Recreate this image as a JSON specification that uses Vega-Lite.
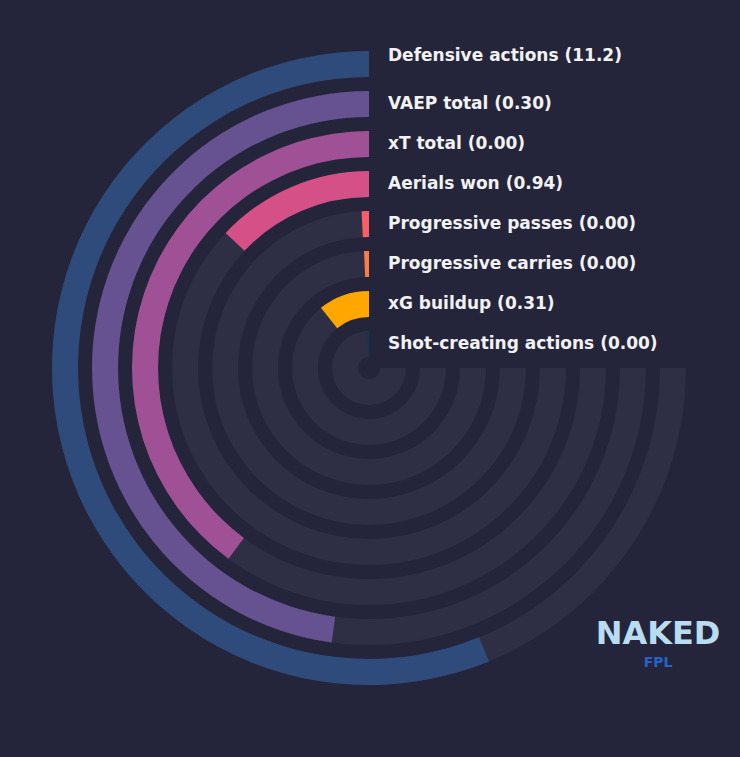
{
  "$schema": "https://vega.github.io/schema/vega-lite/v6.json",
  "autosize": {"type": "none"},
  "width": 738,
  "height": 736,
  "padding": {"left": 0, "top": 0, "right": 2, "bottom": 21},
  "background": "#24253a",
  "config": {"view": {"stroke": null}},
  "title": {
    "text": "NAKED",
    "subtitle": "FPL",
    "orient": "bottom",
    "anchor": "end",
    "align": "center",
    "dx": -80,
    "dy": -117,
    "offset": 0,
    "font": "DejaVu Sans",
    "fontSize": 32,
    "fontWeight": "bold",
    "color": "#b9dcf2",
    "subtitleFont": "DejaVu Sans",
    "subtitleFontSize": 14,
    "subtitleFontWeight": "bold",
    "subtitleColor": "#2563c9",
    "subtitlePadding": 5
  },
  "data": {
    "values": [
      {"metric": "Defensive actions", "label": "Defensive actions (11.2)", "pct": 74.9},
      {"metric": "VAEP total", "label": "VAEP total (0.30)", "pct": 63.8},
      {"metric": "xT total", "label": "xT total (0.00)", "pct": 53.2},
      {"metric": "Aerials won", "label": "Aerials won (0.94)", "pct": 17.3},
      {"metric": "Progressive passes", "label": "Progressive passes (0.00)", "pct": 1.0},
      {"metric": "Progressive carries", "label": "Progressive carries (0.00)", "pct": 0.9},
      {"metric": "xG buildup", "label": "xG buildup (0.31)", "pct": 14.3},
      {"metric": "Shot-creating actions", "label": "Shot-creating actions (0.00)", "pct": 0.9}
    ]
  },
  "layer": [
    {
      "mark": {"type": "arc", "color": "#2e2f44"},
      "encoding": {
        "theta": {"datum": 100, "type": "quantitative", "scale": {"domain": [0, 100], "range": [0, -4.71239]}},
        "theta2": {"datum": 0},
        "radius": {
          "field": "metric", "type": "nominal",
          "scale": {"type": "band", "domain": ["Shot-creating actions", "xG buildup", "Progressive carries", "Progressive passes", "Aerials won", "xT total", "VAEP total", "Defensive actions"], "range": [11, 317], "paddingInner": 0.35, "paddingOuter": 0}
        }
      }
    },
    {
      "mark": {"type": "arc"},
      "encoding": {
        "theta": {"field": "pct", "type": "quantitative", "stack": null, "scale": {"domain": [0, 100], "range": [0, -4.71239]}},
        "theta2": {"datum": 0},
        "radius": {"field": "metric", "type": "nominal"},
        "color": {
          "field": "metric", "type": "nominal", "legend": null,
          "scale": {"domain": ["Defensive actions", "VAEP total", "xT total", "Aerials won", "Progressive passes", "Progressive carries", "xG buildup", "Shot-creating actions"],
                    "range": ["#2f4b7c", "#665191", "#a05195", "#d45087", "#f95d6a", "#ff7c43", "#ffa600", "#003f5c"]}
        }
      }
    },
    {
      "transform": [{"filter": "datum.metric != 'Defensive actions'"}],
      "mark": {"type": "text", "align": "left", "baseline": "middle", "dx": 19, "dy": 0, "font": "DejaVu Sans", "fontSize": 17, "fontWeight": "bold", "color": "#f2f2f2"},
      "encoding": {
        "theta": {"datum": 0, "type": "quantitative"},
        "radius": {"field": "metric", "type": "nominal"},
        "text": {"field": "label"}
      }
    },
    {
      "transform": [{"filter": "datum.metric == 'Defensive actions'"}],
      "mark": {"type": "text", "align": "left", "baseline": "middle", "dx": 19, "dy": -8, "font": "DejaVu Sans", "fontSize": 17, "fontWeight": "bold", "color": "#f2f2f2"},
      "encoding": {
        "theta": {"datum": 0, "type": "quantitative"},
        "radius": {"field": "metric", "type": "nominal"},
        "text": {"field": "label"}
      }
    }
  ]
}
